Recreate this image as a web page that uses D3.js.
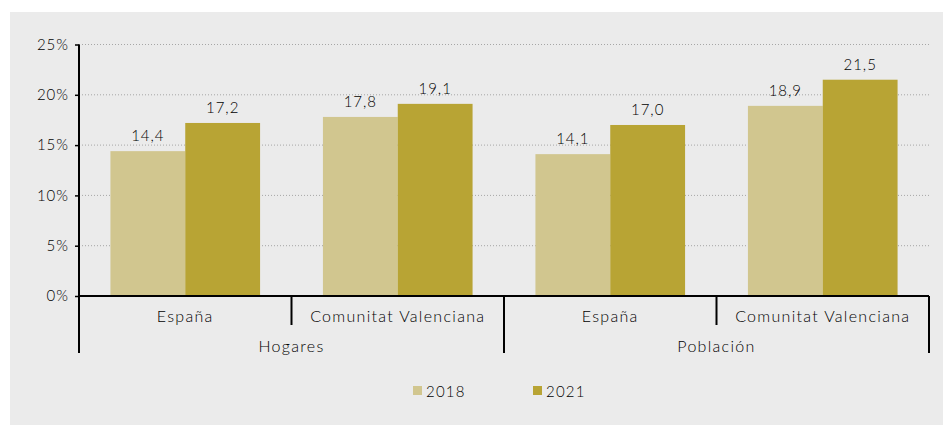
<!DOCTYPE html>
<html>
<head>
<meta charset="utf-8">
<script src="https://cdn.jsdelivr.net/npm/d3@7"></script>
<style>
  body { margin: 0; background: #fff; }
  text { font-family: Lato, "Open Sans", sans-serif; fill: #000; font-weight: 300; }
</style>
</head>
<body>
<script>
const groups = ['Hogares', 'Población']
const regions = ['España', 'Comunitat Valenciana']
const years = ['2018', '2021']
const values2018 = [14.4, 17.8, 14.1, 18.9]
const values2021 = [17.2, 19.1, 17.0, 21.5]
const yTicks = [0, 5, 10, 15, 20, 25]
const colors = ['#d1c68f', '#b8a434']

const W = 943, H = 425
const margin = {top: 44.5, bottom: 129, left: 79, right: 14}
const width = W - margin.left - margin.right
const height = H - margin.top - margin.bottom

const svg = d3.select('body').append('svg')
  .attr('width', W)
  .attr('height', H)

svg.append('rect')
  .attr('x', 10).attr('y', 12)
  .attr('width', W - 10).attr('height', H - 12)
  .attr('fill', '#ebebeb')

const g = svg.append('g')
  .attr('transform', `translate(${margin.left},${margin.top})`)

// categories: group x region
const cats = []
groups.forEach(gr => regions.forEach(r => cats.push({group: gr, region: r})))
const data = cats.map((c, i) => ({...c, key: c.group + '|' + c.region, vals: [values2018[i], values2021[i]]}))

const xScale = d3.scaleBand().domain(data.map(d => d.key)).range([0, width]).padding(0)
const x1 = d3.scaleBand().domain(years).range([0, xScale.bandwidth()]).paddingInner(0).paddingOuter(0.42)
const yScale = d3.scaleLinear().domain([0, 25]).range([height, 0])

// gridlines
g.append('g').selectAll('line').data(yTicks.slice(1)).join('line')
  .attr('x1', 0).attr('x2', width)
  .attr('y1', d => yScale(d)).attr('y2', d => yScale(d))
  .attr('stroke', '#a6a6a6').attr('stroke-width', 1)
  .attr('stroke-dasharray', '1,2')

// bars
const cg = g.selectAll('.cat').data(data).join('g')
  .attr('class', 'cat')
  .attr('transform', d => `translate(${xScale(d.key)},0)`)

cg.selectAll('rect').data(d => d.vals.map((v, i) => ({year: years[i], v}))).join('rect')
  .attr('x', d => x1(d.year))
  .attr('width', x1.bandwidth())
  .attr('y', d => yScale(d.v))
  .attr('height', d => height - yScale(d.v))
  .attr('fill', (d, i) => colors[i])

cg.selectAll('.lbl').data(d => d.vals.map((v, i) => ({year: years[i], v}))).join('text')
  .attr('class', 'lbl')
  .attr('x', d => x1(d.year) + x1.bandwidth() / 2)
  .attr('y', d => yScale(d.v) - 10)
  .attr('text-anchor', 'middle')
  .style('font-size', '15px')
  .style('letter-spacing', '1px')
  .text(d => d3.format('.1f')(d.v).replace('.', ','))

// y axis
const yAxis = d3.axisLeft(yScale).tickValues(yTicks).tickSize(4).tickFormat(d => d + '%')
const gy = g.append('g').call(yAxis)
gy.select('.domain').remove()
gy.attr('font-family', null).attr('font-size', null)
gy.selectAll('.tick line').attr('stroke', '#000').attr('stroke-width', 1.5)
gy.selectAll('.tick text').attr('x', -10).style('font-size', '15px').style('letter-spacing', '1px')
  .attr('fill', '#000')

const axisStroke = l => l.attr('stroke', '#000').attr('stroke-width', 2)

// left axis line down to group row
axisStroke(g.append('line').attr('x1', 0).attr('x2', 0).attr('y1', 0).attr('y2', height + 57))
// baseline
axisStroke(g.append('line').attr('x1', 0).attr('x2', width).attr('y1', height).attr('y2', height))

// region dividers (inside groups)
const regionEdges = data.filter((d, i) => i % regions.length !== 0).map(d => xScale(d.key))
g.selectAll('.rdiv').data(regionEdges).join('line').attr('class', 'rdiv')
  .attr('x1', d => d).attr('x2', d => d).attr('y1', height).attr('y2', height + 29)
  .call(axisStroke)

// group dividers
const groupEdges = groups.map((gr, i) => xScale(data[i * regions.length].key)).slice(1).concat([width])
g.selectAll('.gdiv').data(groupEdges).join('line').attr('class', 'gdiv')
  .attr('x1', d => d).attr('x2', d => d).attr('y1', height).attr('y2', height + 57)
  .call(axisStroke)

// region labels
g.selectAll('.rlab').data(data).join('text').attr('class', 'rlab')
  .attr('x', d => xScale(d.key) + xScale.bandwidth() / 2)
  .attr('y', height + 26)
  .attr('text-anchor', 'middle')
  .style('font-size', '16px').style('letter-spacing', '1.3px')
  .text(d => d.region)

// group labels
g.selectAll('.glab').data(groups).join('text').attr('class', 'glab')
  .attr('x', (d, i) => xScale(data[i * regions.length].key) + xScale.bandwidth() * regions.length / 2)
  .attr('y', height + 56)
  .attr('text-anchor', 'middle')
  .style('font-size', '16px').style('letter-spacing', '1.3px')
  .text(d => d)

// legend
const legend = svg.append('g').attr('transform', 'translate(413,391)')
const li = legend.selectAll('g').data(years).join('g')
  .attr('transform', (d, i) => `translate(${i * 120},0)`)
li.append('rect').attr('x', 0).attr('y', -5).attr('width', 9).attr('height', 9)
  .attr('fill', (d, i) => colors[i])
li.append('text').attr('x', 13).attr('y', 5.5)
  .style('font-size', '15px').style('letter-spacing', '1.2px')
  .text(d => d)
</script>
</body>
</html>
